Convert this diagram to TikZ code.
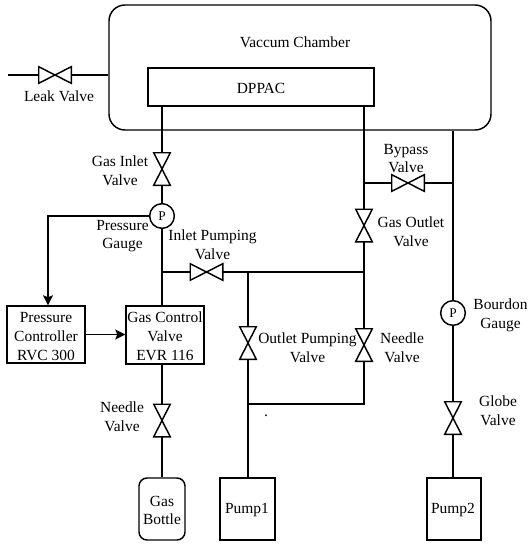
\documentclass[tikz,border=0pt]{standalone}
\usepackage{fontspec}
\setmainfont{Liberation Serif}
\usetikzlibrary{arrows.meta}
\newcommand{\vvalve}[3]{% name, x, y centre
  \node[vshape] (#1) at (#2,#3) {};
  \draw[ln] (#1.north west) -- (#1.north east) -- (#1.south west) -- (#1.south east) -- cycle;}
\newcommand{\hvalve}[3]{%
  \node[hshape] (#1) at (#2,#3) {};
  \draw[ln] (#1.north west) -- (#1.south east) -- (#1.north east) -- (#1.south west) -- cycle;}
\tikzset{
  ln/.style={line width=1.1pt,line join=miter},
  vshape/.style={inner sep=0pt,minimum width=12pt,minimum height=24pt},
  hshape/.style={inner sep=0pt,minimum width=24pt,minimum height=12pt},
  box/.style={draw,line width=1.1pt,inner sep=0pt,align=center},
  lbl/.style={inner sep=0pt,align=center,font=\fontsize{11.6pt}{14.1pt}\selectfont},
  gauge/.style={draw,circle,line width=1.1pt,inner sep=0pt,minimum size=18.5pt,font=\fontsize{10pt}{10pt}\selectfont},
  arr/.style={ln,-{Stealth[length=7.5pt,width=7.5pt,inset=1.5pt]}}
}
\begin{document}
\begin{tikzpicture}[x=0.75pt,y=-0.75pt]
\useasboundingbox (0,0) rectangle (528,544);
% boxes
\node[box,rounded corners=12pt,minimum width=286.5pt,minimum height=93.75pt] (chamber) at (300,67.5) {};
\node[box,minimum width=169.5pt,minimum height=28.5pt] (dppac) at (261,87) {};
\node[box,minimum width=58.5pt,minimum height=42.75pt] (ctrl) at (46,334.5) {};
\node[box,minimum width=58.5pt,minimum height=43.5pt] (gcv) at (165,335) {};
\node[box,rounded corners=6pt,minimum width=34.5pt,minimum height=46.5pt] (bottle) at (162,509) {};
\node[box,minimum width=41.25pt,minimum height=46.5pt] (pump1) at (247.5,509) {};
\node[box,minimum width=40.5pt,minimum height=46.5pt] (pump2) at (454,509) {};
% gauges
\node[gauge] (pg) at (162,216) {P};
\node[gauge] (bg) at (453,313) {P};
% valves
\hvalve{leak}{55}{75}
\vvalve{inlet}{162}{169}
\hvalve{ipv}{206.5}{272}
\hvalve{byp}{408}{183}
\vvalve{gov}{364}{225.5}
\vvalve{opv}{248}{343}
\vvalve{nvr}{364}{345}
\vvalve{nvl}{162}{420.5}
\vvalve{glob}{453}{418}
% junction coordinates
\coordinate (leakend) at (8,75);
\coordinate (chl) at (chamber.west |- leak);
\coordinate (jipv) at (162,272);
\coordinate (j1) at (248,272);
\coordinate (j2) at (364,272);
\coordinate (jb) at (364,183);
\coordinate (jb2) at (453,183);
\coordinate (bl) at (364,404);
\coordinate (br) at (248,404);
\coordinate (ctop) at (48,216);
% connectors
\draw[ln] (leakend) -- (leak.west);
\draw[ln] (leak.east) -- (chl);
\draw[ln] (inlet.north |- dppac.south) -- (inlet.north);
\draw[ln] (inlet.south) -- (pg.north);
\draw[ln] (pg.south) -- (pg.south |- gcv.north);
\draw[arr] (pg.west) -- (ctop) -- (ctop |- ctrl.north);
\draw[arr] (ctrl.east) -- (gcv.west |- ctrl.east);
\draw[ln] (jipv) -- (ipv.west);
\draw[ln] (ipv.east) -- (j2);
\draw[ln] (gov.north |- dppac.south) -- (gov.north);
\draw[ln] (gov.south) -- (j2) -- (nvr.north);
\draw[ln] (jb) -- (byp.west);
\draw[ln] (byp.east) -- (jb2);
\draw[ln] (bg.north |- chamber.south) -- (bg.north);
\draw[ln] (bg.south) -- (glob.north);
\draw[ln] (glob.south) -- (glob.south |- pump2.north);
\draw[ln] (j1) -- (opv.north);
\draw[ln] (opv.south) -- (opv.south |- pump1.north);
\draw[ln] (nvr.south) -- (bl) -- (br);
\draw[ln] (nvl.north |- gcv.south) -- (nvl.north);
\draw[ln] (nvl.south) -- (bottle.north);
% labels
\node[lbl] (t1) at (295,42) {Vaccum Chamber};
\node[lbl] (t2) at (261,88) {DPPAC};
\node[lbl] (t3) at (59,96.5) {Leak Valve};
\node[lbl] (t4) at (120,170.5) {Gas Inlet\\Valve};
\node[lbl] (t5) at (122.5,236) {Pressure\\Gauge};
\node[lbl] (t6) at (212.5,244.5) {Inlet Pumping\\Valve};
\node[lbl] (t7) at (406,158.5) {Bypass\\Valve};
\node[lbl] (t8) at (411,232) {Gas Outlet\\Valve};
\node[lbl] (t9) at (500.5,315) {Bourdon\\Gauge};
\node[lbl] (t10) at (307.5,348) {Outlet Pumping\\Valve};
\node[lbl] (t11) at (402,348) {Needle\\Valve};
\node[lbl] (t12) at (498,411) {Globe\\Valve};
\node[lbl] (t13) at (122,417) {Needle\\Valve};
\node[lbl] (t14) at (266,416) {.};
\node[lbl] (t15) at (46,336.5) {Pressure\\Controller\\RVC 300};
\node[lbl] (t16) at (165,336.5) {Gas Control\\Valve\\EVR 116};
\node[lbl] (t17) at (162,510.5) {Gas\\Bottle};
\node[lbl] (t18) at (247,510) {Pump1};
\node[lbl] (t19) at (453,510) {Pump2};
\end{tikzpicture}
\end{document}
